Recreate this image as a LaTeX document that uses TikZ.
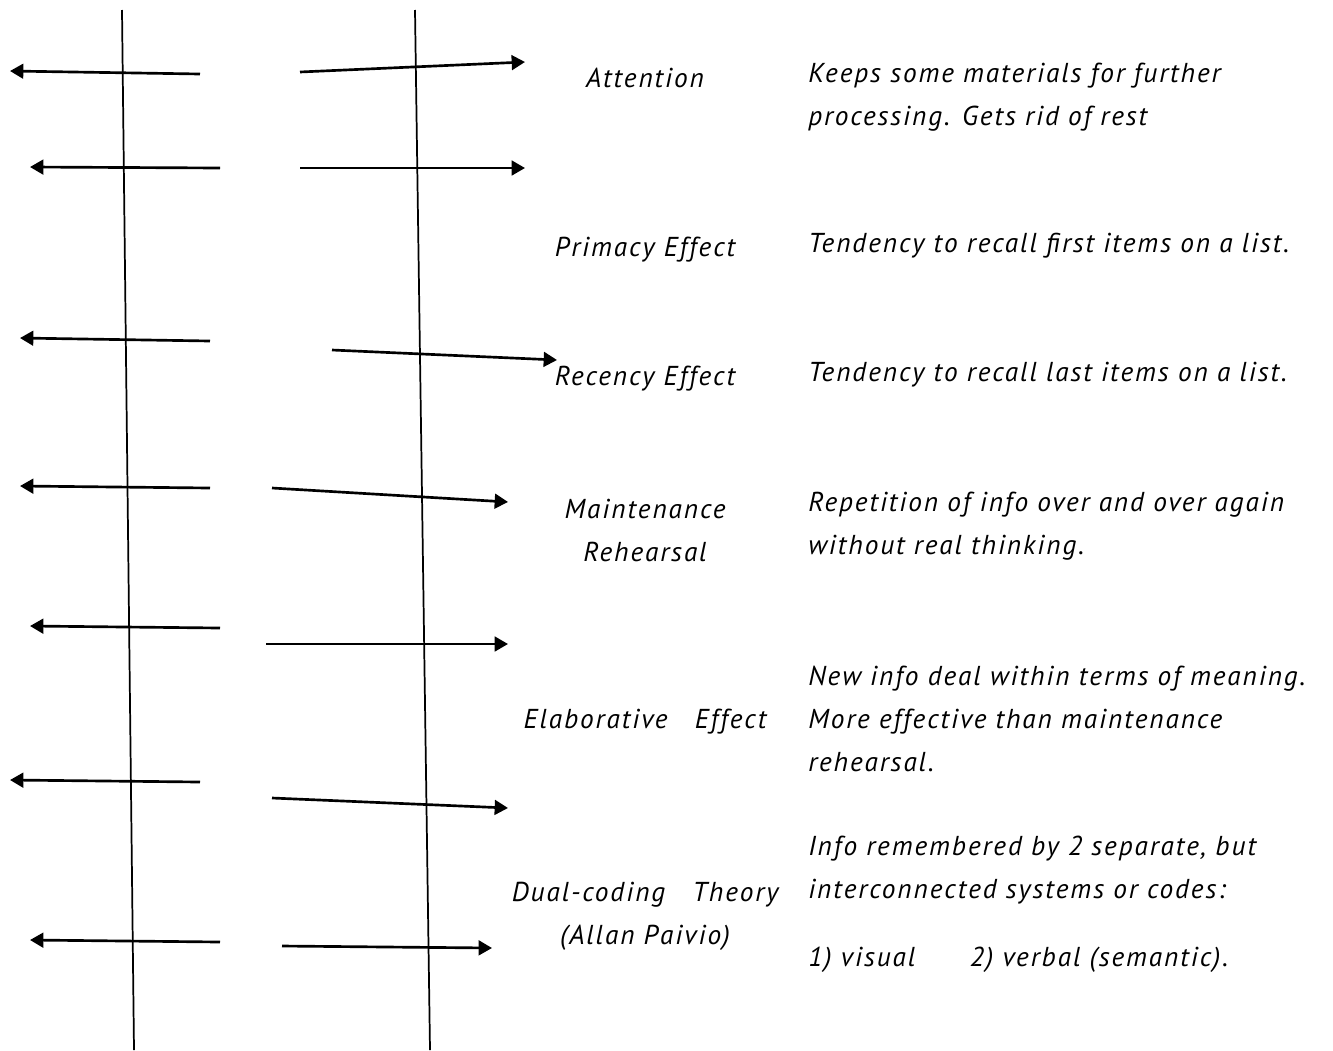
\documentclass[tikz,border=0pt]{standalone}
\usepackage{fontspec}
\usepackage{tikz}
\usetikzlibrary{arrows.meta}
\newfontfamily\handfont{PT Sans}[LetterSpace=7]

\begin{document}
\begin{tikzpicture}[x=0.75pt, y=-0.75pt, >={Triangle[length=10pt, width=11pt]}]
  \tikzstyle{term}=[inner sep=0pt, align=center, font=\handfont\itshape\fontsize{20.5}{32.25}\selectfont]
  \tikzstyle{desc}=[inner sep=0pt, align=left, anchor=west, font=\handfont\itshape\fontsize{20.5}{32.25}\selectfont]
  \tikzstyle{arr}=[->, line width=2pt]
  \tikzstyle{rail}=[line width=1.3pt]

  \useasboundingbox (0,0) rectangle (1333,1050);

  % Rails
  \coordinate (l top) at (122,10);
  \coordinate (l bot) at (134,1050);
  \coordinate (r top) at (415,10);
  \coordinate (r bot) at (430,1050);
  \draw[rail] (l top) -- (l bot);
  \draw[rail] (r top) -- (r bot);

  % Left arrows
  \foreach \i/\xs/\ys/\xe/\ye in {1/200/74/10/71, 2/220/168/30/167, 3/210/341/20/338,
      4/210/488/20/486, 5/220/628/30/626, 6/200/782/10/780, 7/220/942/30/940} {
    \coordinate (la\i s) at (\xs,\ys);
    \coordinate (la\i e) at (\xe,\ye);
    \draw[arr] (la\i s) -- (la\i e);
  }

  % Right arrows
  \foreach \i/\xs/\ys/\xe/\ye in {1/300/72/525/62, 2/300/168/525/168, 3/332/350/557/360,
      4/272/488/508/502, 5/266/644/508/644, 6/272/798/508/808, 7/282/946/492/948} {
    \coordinate (ra\i s) at (\xs,\ys);
    \coordinate (ra\i e) at (\xe,\ye);
    \draw[arr] (ra\i s) -- (ra\i e);
  }

  % Terms
  \node[term] (att) at (645,78) {Attention};
  \node[term] (pri) at (645,250) {Primacy Effect};
  \node[term] (rec) at (645,379) {Recency Effect};
  \node[term] (mai) at (645,530) {Maintenance\\Rehearsal};
  \node[term] (ela) at (645,722) {Elaborative\quad Effect};
  \node[term] (dua) at (645,916) {Dual-coding\quad Theory\\(Allan Paivio)};

  % Descriptions
  \node[desc] (datt) at (808,97) {Keeps some materials for further\\processing. Gets rid of rest};
  \node[desc] (dpri) at (808,246) {Tendency to recall first items on a list.};
  \node[desc] (drec) at (808,375) {Tendency to recall last items on a list.};
  \node[desc] (dmai) at (808,526) {Repetition of info over and over again\\without real thinking.};
  \node[desc] (dela) at (808,719) {New info deal within terms of meaning.\\More effective than maintenance\\rehearsal.};
  \node[desc] (ddua) at (808,870) {Info remembered by 2 separate, but\\interconnected systems or codes:};
  \node[desc] (ddua2) at (808,960) {1) visual\qquad 2) verbal (semantic).};
\end{tikzpicture}
\end{document}
